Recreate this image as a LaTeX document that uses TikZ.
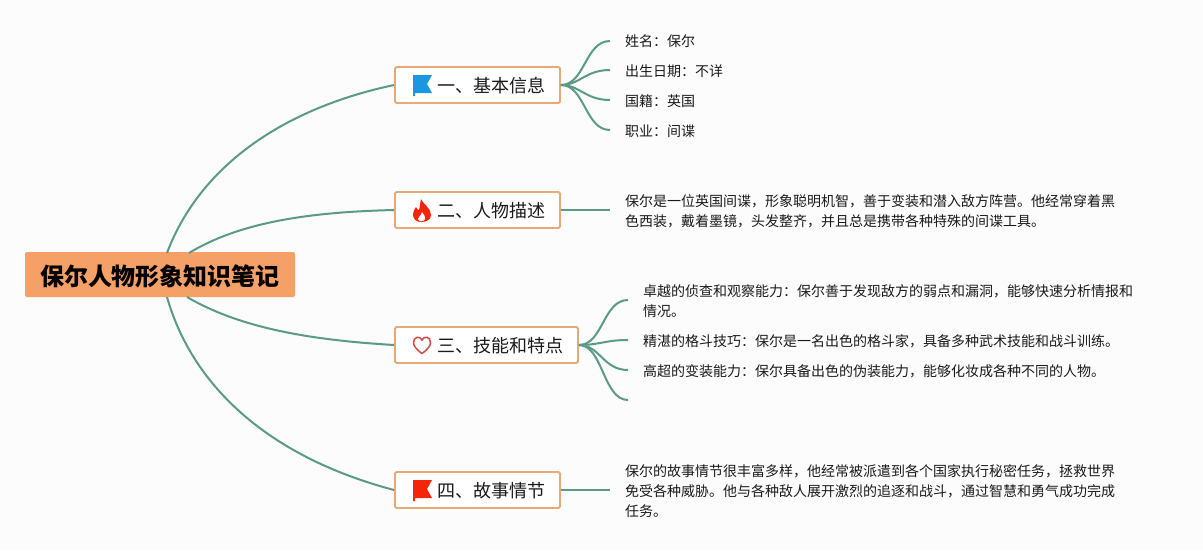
\documentclass[tikz,border=0pt]{standalone}
\usepackage{fontspec}
\setmainfont{Noto Sans CJK SC}
\usepackage{xcolor}
\usetikzlibrary{positioning}
\definecolor{MapPaper}{HTML}{FCFCFC}
\definecolor{MapOrange}{HTML}{F5A067}
\definecolor{MapBorder}{HTML}{E8A878}
\definecolor{MapGreen}{HTML}{5B9A87}
\definecolor{MapInk}{HTML}{1A1A1A}
\definecolor{FlagBlue}{HTML}{1B96E0}
\definecolor{FlagRed}{HTML}{F5250A}
\definecolor{HeartRed}{HTML}{CC4A3E}
\newcommand{\wcolon}{\char"FF1A\relax}
\newcommand{\wcomma}{\char"FF0C\relax}
\tikzset{
  rootbox/.style={fill=MapOrange,rounded corners=2pt,minimum width=270pt,minimum height=45pt,
    inner sep=0pt,font=\fontsize{24pt}{28pt}\selectfont\bfseries,text=black},
  topicbox/.style={draw=MapBorder,line width=1.8pt,fill=white,rounded corners=1.5pt,minimum height=36pt,
    inner sep=0pt},
  topictext/.style={anchor=west,inner sep=0pt,font=\fontsize{18pt}{22pt}\selectfont,text=MapInk},
  leaftext/.style={anchor=west,inner sep=0pt,align=left,font=\fontsize{14pt}{20pt}\selectfont,text=MapInk},
  branch/.style={draw=MapGreen,line width=2pt},
}
\begin{document}
\begin{tikzpicture}[x=1pt,y=-1pt]
  \useasboundingbox[fill=MapPaper] (0,0) rectangle (1203,550);

  % main boxes
  \node[rootbox] (root) at (160,274.5) {\raisebox{-11pt}[0pt][0pt]{保尔人物形象知识笔记}};
  \node[topicbox,minimum width=165pt] (info) at (477.5,85) {};
  \node[topicbox,minimum width=165pt] (desc) at (477.5,210) {};
  \node[topicbox,minimum width=183pt] (skill) at (486.5,345) {};
  \node[topicbox,minimum width=165pt] (story) at (477.5,490) {};
  \node[topictext] (infotext) at (437,86) {一、基本信息};
  \node[topictext] (desctext) at (437,211) {二、人物描述};
  \node[topictext] (skilltext) at (437,346) {三、技能和特点};
  \node[topictext] (storytext) at (437,491) {四、故事情节};

  % icons
  \fill[FlagBlue] (413,75) -- (432,75) -- (427,84) -- (432,93) -- (415,93) -- (415,96) -- (413,96) -- cycle;
  \fill[FlagRed] (413,480) -- (432,480) -- (427,489) -- (432,498) -- (415,498) -- (415,501) -- (413,501) -- cycle;
  \fill[FlagRed] (421,199) .. controls (423,204) and (431,208) .. (431,215)
    .. controls (431,220) and (426,222) .. (421,222) .. controls (416,222) and (413,219) .. (413,214)
    .. controls (413,211) and (415,209) .. (416,207) .. controls (417,209) and (418,210) .. (419,210)
    .. controls (420,207) and (420,203) .. (421,199) -- cycle;
  \fill[white] (422,212) .. controls (424,215) and (426,217) .. (425,219)
    .. controls (424,222) and (419,222) .. (418,219) .. controls (418,217) and (421,216) .. (422,212) -- cycle;
  \draw[HeartRed,line width=1.5pt] (422,353.5) .. controls (416,349) and (413.5,346) .. (413.5,342.5)
    .. controls (413.5,336.5) and (420,335.5) .. (422,340) .. controls (424,335.5) and (430.5,336.5) .. (430.5,342.5)
    .. controls (430.5,346) and (428,349) .. (422,353.5) -- cycle;

  % leaf texts
  \node[leaftext] (name) at (625,41.5) {姓名\wcolon 保尔};
  \node[leaftext] (birth) at (625,71.5) {出生日期\wcolon 不详};
  \node[leaftext] (nation) at (625,101.5) {国籍\wcolon 英国};
  \node[leaftext] (job) at (625,131.5) {职业\wcolon 间谍};
  \node[leaftext] (about) at (625,211) {保尔是一位英国间谍\wcomma 形象聪明机智\wcomma 善于变装和潜入敌方阵营。他经常穿着黑\\色西装\wcomma 戴着墨镜\wcomma 头发整齐\wcomma 并且总是携带各种特殊的间谍工具。};
  \node[leaftext] (scout) at (643,301.5) {卓越的侦查和观察能力\wcolon 保尔善于发现敌方的弱点和漏洞\wcomma 能够快速分析情报和\\情况。};
  \node[leaftext] (fight) at (643,341.5) {精湛的格斗技巧\wcolon 保尔是一名出色的格斗家\wcomma 具备多种武术技能和战斗训练。};
  \node[leaftext] (disguise) at (643,371.5) {高超的变装能力\wcolon 保尔具备出色的伪装能力\wcomma 能够化妆成各种不同的人物。};
  \node[leaftext] (plot) at (625,491.5) {保尔的故事情节很丰富多样\wcomma 他经常被派遣到各个国家执行秘密任务\wcomma 拯救世界\\免受各种威胁。他与各种敌人展开激烈的追逐和战斗\wcomma 通过智慧和勇气成功完成\\任务。};

  % free ends of the branches
  \coordinate (rootup) at (167,253);
  \coordinate (rootmid) at (189,253);
  \coordinate (rootdown) at (167,297);
  \coordinate (rootlow) at (187,297);
  \coordinate (endname) at (610,41);
  \coordinate (endbirth) at (610,70);
  \coordinate (endnation) at (610,100);
  \coordinate (endjob) at (610,130);
  \coordinate (endabout) at (610,210);
  \coordinate (endplot) at (610,490);
  \coordinate (endscout) at (628,300);
  \coordinate (endfight) at (628,340);
  \coordinate (enddisguise) at (628,370);
  \coordinate (endspare) at (628,400);

  % root to topics
  \draw[branch] (rootup) .. controls (200,165) and (285,108) .. (info.west);
  \draw[branch] (rootmid) .. controls (240,222) and (310,212) .. (desc.west);
  \draw[branch] (rootlow) .. controls (240,328) and (310,340) .. (skill.west);
  \draw[branch] (rootdown) .. controls (195,395) and (280,460) .. (story.west);

  % topics to leaves
  \draw[branch] (info.east) .. controls (585,85) and (585,41) .. (endname);
  \draw[branch] (info.east) .. controls (580,85) and (585,70) .. (endbirth);
  \draw[branch] (info.east) .. controls (580,85) and (585,100) .. (endnation);
  \draw[branch] (info.east) .. controls (585,85) and (585,130) .. (endjob);
  \draw[branch] (desc.east) -- (endabout);
  \draw[branch] (story.east) -- (endplot);
  \draw[branch] (skill.east) .. controls (603,345) and (603,300) .. (endscout);
  \draw[branch] (skill.east) .. controls (600,345) and (605,340) .. (endfight);
  \draw[branch] (skill.east) .. controls (600,345) and (603,370) .. (enddisguise);
  \draw[branch] (skill.east) .. controls (603,345) and (603,400) .. (endspare);
\end{tikzpicture}
\end{document}
